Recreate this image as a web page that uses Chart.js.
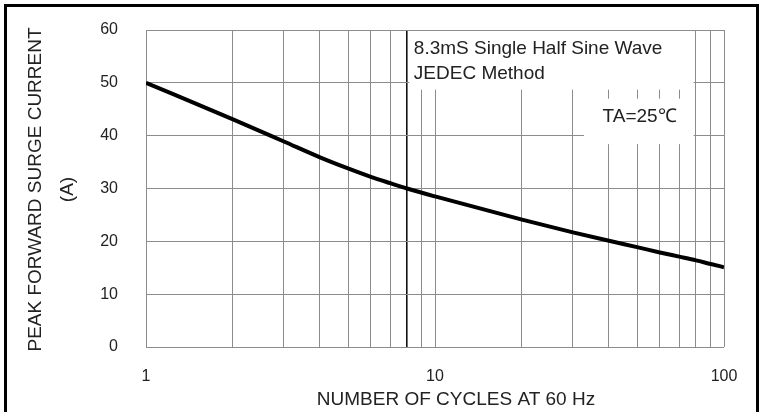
<!DOCTYPE html>
<html>
<head>
<meta charset="utf-8">
<title>Peak Forward Surge Current</title>
<script src="https://cdn.jsdelivr.net/npm/chart.js@4.4.1/dist/chart.umd.min.js"></script>
<style>
  html, body { margin: 0; padding: 0; background: #fff; overflow: hidden; }
  canvas { display: block; }
</style>
</head>
<body>
<canvas id="surgeChart" width="763" height="412"></canvas>
<script>
// ===== Data =====
const cycles = [1, 2, 3, 4, 5, 6, 7, 8, 10, 20, 30, 40, 50, 60, 70, 80, 90, 100];
const surgeCurrent = [50.0, 43.1, 38.9, 35.9, 33.8, 32.2, 31.0, 30.0, 28.5, 24.1, 21.7, 20.1, 18.9, 17.9, 17.1, 16.4, 15.7, 15.1];

// log axis grid and the few labelled decades
const gridCycles = [1, 2, 3, 4, 5, 6, 7, 8, 9, 10, 20, 30, 40, 50, 60, 70, 80, 90, 100];
const labeledCycles = [1, 10, 100];
const currentTicks = [0, 10, 20, 30, 40, 50, 60];
const markedCycle = 8; // drawn darker on the sheet

const noteLines = ["8.3mS Single Half Sine Wave", "JEDEC Method"];
const tempNote = "TA=25\u2103";
const xTitle = "NUMBER OF CYCLES AT 60 Hz";
const yTitle = ["PEAK FORWARD SURGE CURRENT", "(A)"];

const FONT = '"Liberation Sans", Arial, sans-serif';
const TEXT = "#222";
const GRID = "#8c8c8c";

// ===== Notes, titles and frame =====
const notesPlugin = {
  id: "notes",
  beforeDatasetsDraw(chart) {
    const { ctx, chartArea, scales: { x, y } } = chart;
    ctx.save();
    ctx.fillStyle = "#fff";
    // blank patch behind the method note
    const left1 = x.getPixelForValue(8.15);
    const right = x.getPixelForValue(78.5);
    const bottom1 = y.getPixelForValue(48.7);
    ctx.fillRect(left1, chartArea.top + 1, right - left1, bottom1 - chartArea.top - 1);
    // blank patch behind the temperature note
    const left2 = x.getPixelForValue(32.8);
    const top2 = y.getPixelForValue(47.0);
    const bottom2 = y.getPixelForValue(38.4);
    ctx.fillRect(left2, top2, right - left2, bottom2 - top2);
    ctx.restore();
  },
  afterDraw(chart) {
    const { ctx, chartArea, scales: { x, y } } = chart;
    ctx.save();
    ctx.fillStyle = TEXT;
    ctx.font = "19px " + FONT;

    // notes inside the plot
    ctx.textAlign = "left";
    ctx.textBaseline = "alphabetic";
    const nx = x.getPixelForValue(8.45);
    const ny = y.getPixelForValue(55.5);
    noteLines.forEach((line, i) => ctx.fillText(line, nx, ny + i * 25));
    ctx.fillText(tempNote, x.getPixelForValue(38.0), y.getPixelForValue(42.6));

    // axis titles
    ctx.textAlign = "center";
    ctx.textBaseline = "middle";
    ctx.fillText(xTitle, 456, 400);
    const midY = (chartArea.top + chartArea.bottom) / 2 + 1;
    [36, 68].forEach((tx, i) => {
      ctx.save();
      ctx.translate(tx, midY);
      ctx.rotate(-Math.PI / 2);
      ctx.fillText(yTitle[i], 0, 0);
      ctx.restore();
    });

    // outer frame of the figure
    ctx.strokeStyle = "#000";
    ctx.lineWidth = 3;
    ctx.strokeRect(5.5, 5.5, 752, 430);
    ctx.restore();
  }
};

// ===== Chart =====
const ctx = document.getElementById("surgeChart").getContext("2d");

const surgeChart = new Chart(ctx, {
  type: "line",
  data: {
    datasets: [{
      label: "Peak forward surge current",
      data: cycles.map((c, i) => ({ x: c, y: surgeCurrent[i] })),
      borderColor: "#000",
      borderWidth: 4,
      pointRadius: 0,
      fill: false,
      cubicInterpolationMode: "monotone"
    }]
  },
  options: {
    responsive: false,
    animation: false,
    devicePixelRatio: 1,
    layout: { padding: { top: 30, right: 39, left: 0, bottom: 0 } },
    plugins: {
      legend: { display: false },
      tooltip: { enabled: false }
    },
    scales: {
      x: {
        type: "logarithmic",
        min: 1,
        max: 100,
        afterBuildTicks: scale => { scale.ticks = gridCycles.map(v => ({ value: v })); },
        afterFit: scale => { scale.height = 65; },
        border: { display: false },
        grid: {
          drawTicks: false,
          color: c => (c.tick && c.tick.value === markedCycle ? "#111" : GRID),
          lineWidth: c => (c.tick && c.tick.value === markedCycle ? 1.6 : 1)
        },
        ticks: {
          autoSkip: false,
          maxRotation: 0,
          padding: 20,
          color: TEXT,
          font: { family: FONT, size: 16 },
          callback: v => (labeledCycles.includes(v) ? String(v) : "")
        }
      },
      y: {
        min: 0,
        max: 60,
        afterBuildTicks: scale => { scale.ticks = currentTicks.map(v => ({ value: v })); },
        afterFit: scale => {
          scale.width = 146;
          scale.paddingTop = 0;
          scale.paddingBottom = 0;
        },
        border: { display: false },
        grid: { drawTicks: false, color: GRID, lineWidth: 1 },
        ticks: {
          padding: 28,
          color: TEXT,
          font: { family: FONT, size: 16 }
        }
      }
    }
  },
  plugins: [notesPlugin]
});
</script>
</body>
</html>
